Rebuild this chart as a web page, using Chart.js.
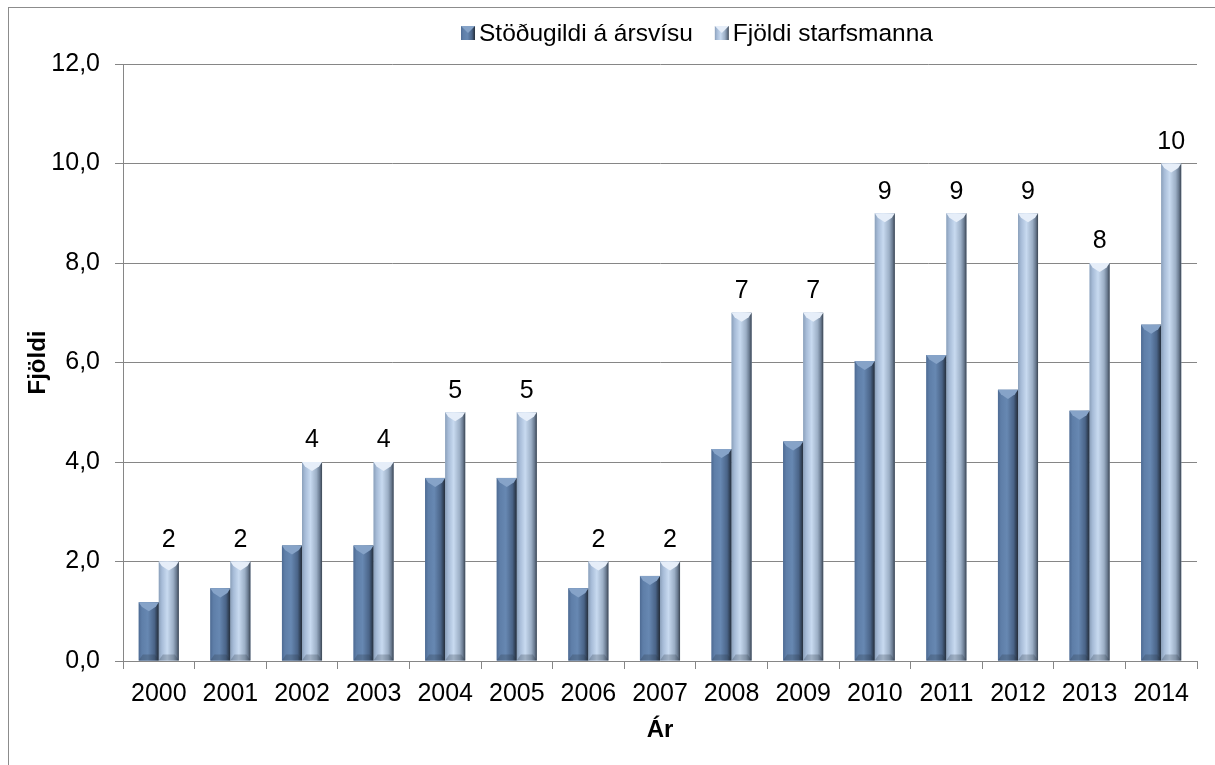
<!DOCTYPE html>
<html lang="is">
<head>
  <meta charset="UTF-8">
  <title>Stöðugildi og fjöldi starfsmanna</title>
  <script src="https://cdn.jsdelivr.net/npm/chart.js"></script>
  <style>
    body { margin: 0; background: #fff; font-family: "Liberation Sans", Arial, sans-serif; }
    #frame { position: absolute; left: 8px; top: 7px; width: 1220px; height: 770px; border: 1px solid #8c8c8c; box-sizing: border-box; }
    #wrap { position: absolute; left: 9px; top: 8px; width: 1206px; height: 757px; }
  </style>
</head>
<body>
  <div id="frame"></div>
  <div id="wrap"><canvas id="chart"></canvas></div>

  <script>
    const years = ['2000', '2001', '2002', '2003', '2004', '2005', '2006', '2007',
                   '2008', '2009', '2010', '2011', '2012', '2013', '2014'];
    const stodugildi = [1.18, 1.46, 2.32, 2.32, 3.68, 3.68, 1.46, 1.71,
                        4.26, 4.41, 6.03, 6.15, 5.45, 5.03, 6.76];
    const starfsmenn = [2, 2, 4, 4, 5, 5, 2, 2, 7, 7, 9, 9, 9, 8, 10];
    const seriesNames = ['Stöðugildi á ársvísu', 'Fjöldi starfsmanna'];

    const FONT = '"Liberation Sans", Arial, sans-serif';

    // gradient stops for the bevelled look, per series
    const shades = [
      { base: '#5f7fa8', top: '#86a3c8', stops: [[0, '#4e6b93'], [0.15, '#5e7ea8'], [0.45, '#6788b2'], [0.78, '#4a6488'], [0.9, '#33445b'], [1, '#262e3a']] },
      { base: '#b4c8e2', top: '#e6eef9', stops: [[0, '#8ba0ba'], [0.15, '#a6bbd7'], [0.42, '#c8daf0'], [0.72, '#9cafc6'], [0.88, '#6b7c92'], [1, '#3b4552']] }
    ];

    const bevelBars = {
      id: 'bevelBars',
      afterDatasetsDraw(chart) {
        const ctx = chart.ctx;
        chart.data.datasets.forEach((ds, i) => {
          const meta = chart.getDatasetMeta(i);
          const sh = shades[i];
          meta.data.forEach(bar => {
            const w = bar.width, x0 = bar.x - w / 2, x1 = bar.x + w / 2;
            const y0 = bar.y, y1 = bar.base;
            const g = ctx.createLinearGradient(x0, 0, x1, 0);
            sh.stops.forEach(s => g.addColorStop(s[0], s[1]));
            ctx.save();
            ctx.fillStyle = g;
            ctx.fillRect(x0, y0, w, y1 - y0);
            // top bevel
            const d = Math.min(w * 0.45, (y1 - y0) / 2);
            ctx.beginPath();
            ctx.moveTo(x0, y0);
            ctx.lineTo(x1, y0);
            ctx.lineTo(x1 - w * 0.15, y0 + d * 0.5);
            ctx.lineTo(bar.x, y0 + d);
            ctx.lineTo(x0 + w * 0.15, y0 + d * 0.5);
            ctx.closePath();
            ctx.fillStyle = sh.top;
            ctx.fill();
            // bottom bevel
            ctx.beginPath();
            ctx.moveTo(x0, y1);
            ctx.lineTo(x1, y1);
            ctx.lineTo(x1 - w * 0.2, y1 - 6);
            ctx.lineTo(x0 + w * 0.2, y1 - 6);
            ctx.closePath();
            ctx.fillStyle = 'rgba(40,50,65,0.25)';
            ctx.fill();
            ctx.restore();
          });
        });
        // value labels above second series
        const meta = chart.getDatasetMeta(1);
        ctx.save();
        ctx.font = '25px ' + FONT;
        ctx.fillStyle = '#000';
        ctx.textAlign = 'center';
        ctx.textBaseline = 'bottom';
        meta.data.forEach((bar, j) => {
          ctx.fillText(String(starfsmenn[j]), bar.x, bar.y - 9);
        });
        ctx.restore();
      }
    };

    const topLegend = {
      id: 'topLegend',
      afterDraw(chart) {
        const ctx = chart.ctx;
        ctx.save();
        ctx.font = '24.5px ' + FONT;
        ctx.textBaseline = 'middle';
        const box = 14, gap = 4, between = 22;
        const widths = seriesNames.map(n => box + gap + ctx.measureText(n).width);
        const total = widths[0] + between + widths[1];
        let x = 688 - total / 2;
        const y = 25;
        seriesNames.forEach((n, i) => {
          const g = ctx.createLinearGradient(x, 0, x + box, 0);
          shades[i].stops.forEach(s => g.addColorStop(s[0], s[1]));
          ctx.fillStyle = g;
          ctx.fillRect(x, y - box / 2, box, box);
          ctx.fillStyle = shades[i].top;
          ctx.beginPath();
          ctx.moveTo(x, y - box / 2);
          ctx.lineTo(x + box, y - box / 2);
          ctx.lineTo(x + box / 2, y);
          ctx.closePath();
          ctx.fill();
          ctx.fillStyle = '#000';
          ctx.fillText(n, x + box + gap, y + 1);
          x += widths[i] + between;
        });
        ctx.restore();
      }
    };

    new Chart(document.getElementById('chart'), {
      type: 'bar',
      data: {
        labels: years,
        datasets: [
          { label: seriesNames[0], data: stodugildi, backgroundColor: shades[0].base },
          { label: seriesNames[1], data: starfsmenn, backgroundColor: shades[1].base }
        ]
      },
      options: {
        responsive: true,
        maintainAspectRatio: false,
        animation: false,
        categoryPercentage: 0.56,
        barPercentage: 1,
        layout: { padding: { top: 56, right: 18, bottom: 20, left: 0 } },
        plugins: { legend: { display: false }, tooltip: { enabled: false } },
        scales: {
          x: {
            grid: { offset: true, drawOnChartArea: false, color: '#868686', tickLength: 8 },
            border: { color: '#868686' },
            ticks: { color: '#000', font: { family: FONT, size: 25 }, padding: 10, maxRotation: 0 },
            title: { display: true, text: 'Ár', color: '#000', font: { family: FONT, size: 24, weight: 'bold' }, padding: { top: 2, bottom: 0 } },
            afterFit: s => { s.height = 84; }
          },
          y: {
            min: 0, max: 12,
            ticks: {
              stepSize: 2, color: '#000', font: { family: FONT, size: 25 }, padding: 15,
              callback: v => v.toFixed(1).replace('.', ',')
            },
            grid: { color: '#868686', tickLength: 8 },
            border: { color: '#868686' },
            title: { display: true, text: 'Fjöldi', color: '#000', font: { family: FONT, size: 24, weight: 'bold' }, padding: { top: 15, bottom: 0 } },
            afterFit: s => { s.width = 114; }
          }
        }
      },
      plugins: [bevelBars, topLegend]
    });
  </script>
</body>
</html>
